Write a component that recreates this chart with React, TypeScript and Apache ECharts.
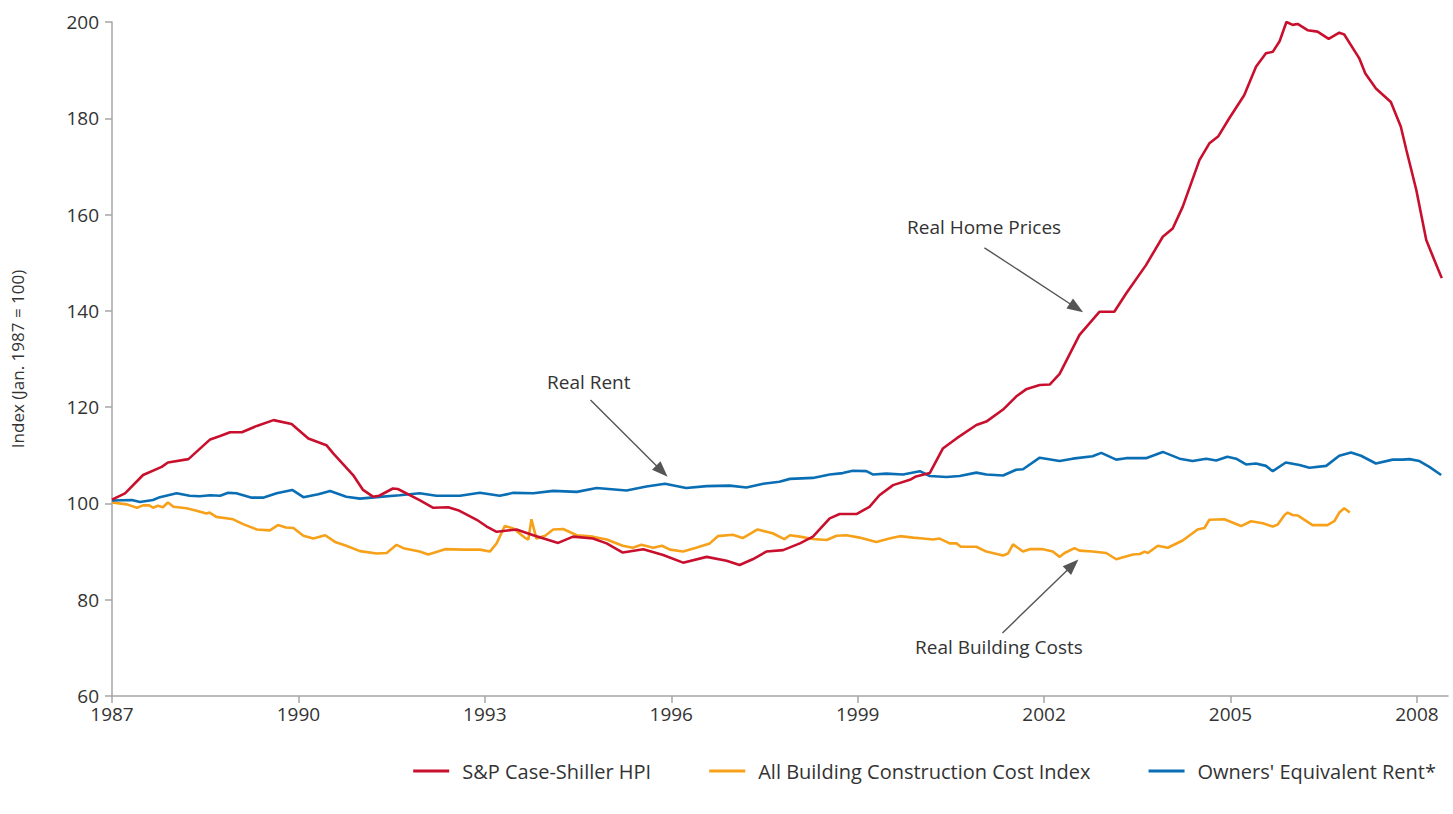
import React, { useEffect, useRef } from "react";
import * as echarts from "echarts";

const BASE_YEAR = 1987;
const xTickLabels = ["1987", "1990", "1993", "1996", "1999", "2002", "2005", "2008"];

const seriesNames = ["S&P Case-Shiller HPI", "All Building Construction Cost Index", "Owners' Equivalent Rent*"];

const hpi: number[][] = [
  [1987.0, 100.8], [1987.21, 102.1], [1987.5, 105.9], [1987.8, 107.6], [1987.9, 108.5], [1988.23, 109.2],
  [1988.58, 113.3], [1988.74, 114.0], [1988.9, 114.8], [1989.09, 114.8], [1989.33, 116.1], [1989.6, 117.3],
  [1989.89, 116.5], [1990.16, 113.5], [1990.45, 112.1], [1990.56, 110.4], [1990.88, 105.9], [1991.04, 102.8],
  [1991.2, 101.4], [1991.3, 101.6], [1991.52, 103.1], [1991.6, 103.0], [1991.95, 100.7], [1992.17, 99.1],
  [1992.41, 99.2], [1992.57, 98.6], [1992.87, 96.6], [1993.03, 95.2], [1993.19, 94.1], [1993.51, 94.6],
  [1993.78, 93.4], [1994.18, 91.8], [1994.42, 93.1], [1994.74, 92.7], [1994.96, 91.7], [1995.22, 89.8],
  [1995.55, 90.5], [1995.87, 89.3], [1996.19, 87.7], [1996.57, 88.9], [1996.89, 88.1], [1997.1, 87.2],
  [1997.31, 88.4], [1997.53, 90.0], [1997.8, 90.3], [1998.07, 91.7], [1998.28, 93.1], [1998.55, 96.9],
  [1998.71, 97.8], [1998.98, 97.8], [1999.19, 99.3], [1999.35, 101.7], [1999.57, 103.8], [1999.84, 104.9],
  [1999.94, 105.6], [2000.16, 106.3], [2000.37, 111.4], [2000.59, 113.5], [2000.91, 116.3], [2001.07, 117.0],
  [2001.34, 119.5], [2001.55, 122.2], [2001.71, 123.7], [2001.93, 124.6], [2002.09, 124.7], [2002.25, 126.9],
  [2002.57, 135.0], [2002.89, 139.8], [2003.13, 139.8], [2003.32, 143.6], [2003.64, 149.5], [2003.91, 155.4],
  [2004.07, 157.1], [2004.23, 161.6], [2004.5, 171.3], [2004.66, 174.8], [2004.8, 176.2], [2004.98, 180.0],
  [2005.22, 184.8], [2005.41, 190.7], [2005.57, 193.5], [2005.68, 193.8], [2005.79, 196.0], [2005.9, 200.0],
  [2006.0, 199.4], [2006.08, 199.6], [2006.24, 198.3], [2006.4, 198.0], [2006.58, 196.5], [2006.75, 197.8],
  [2006.83, 197.4], [2007.07, 192.5], [2007.17, 189.3], [2007.34, 186.2], [2007.58, 183.4], [2007.74, 178.3],
  [2007.83, 173.4], [2007.99, 165.1], [2008.15, 154.7], [2008.26, 151.2], [2008.4, 146.8],
];

const buildingCost: number[][] = [
  [1987.0, 100.2], [1987.24, 99.8], [1987.4, 99.1], [1987.5, 99.6], [1987.6, 99.6], [1987.66, 99.1],
  [1987.74, 99.5], [1987.82, 99.2], [1987.9, 100.2], [1987.99, 99.3], [1988.2, 99.0], [1988.36, 98.5],
  [1988.52, 97.9], [1988.57, 98.1], [1988.68, 97.2], [1988.95, 96.7], [1989.11, 95.7], [1989.33, 94.6],
  [1989.54, 94.4], [1989.67, 95.5], [1989.8, 95.0], [1989.92, 94.9], [1990.08, 93.3], [1990.24, 92.7],
  [1990.43, 93.4], [1990.59, 92.0], [1990.77, 91.2], [1990.99, 90.1], [1991.26, 89.6], [1991.42, 89.7],
  [1991.58, 91.4], [1991.69, 90.7], [1991.95, 90.0], [1992.09, 89.4], [1992.36, 90.5], [1992.66, 90.4],
  [1992.92, 90.4], [1993.08, 90.0], [1993.19, 91.7], [1993.32, 95.3], [1993.46, 94.8], [1993.64, 92.9],
  [1993.7, 92.5], [1993.75, 96.7], [1993.83, 92.7], [1993.97, 93.3], [1994.1, 94.6], [1994.26, 94.7],
  [1994.48, 93.4], [1994.74, 93.1], [1994.96, 92.5], [1995.22, 91.2], [1995.38, 90.8], [1995.52, 91.4],
  [1995.71, 90.8], [1995.85, 91.2], [1995.98, 90.4], [1996.19, 90.0], [1996.4, 90.8], [1996.62, 91.7],
  [1996.75, 93.2], [1996.99, 93.5], [1997.15, 92.8], [1997.26, 93.6], [1997.39, 94.6], [1997.63, 93.8],
  [1997.82, 92.6], [1997.91, 93.4], [1998.07, 93.1], [1998.28, 92.6], [1998.5, 92.4], [1998.66, 93.3],
  [1998.82, 93.4], [1999.03, 92.9], [1999.3, 92.0], [1999.51, 92.7], [1999.68, 93.2], [1999.89, 92.9],
  [2000.05, 92.7], [2000.21, 92.5], [2000.32, 92.7], [2000.48, 91.7], [2000.59, 91.7], [2000.66, 91.0],
  [2000.91, 91.0], [2001.07, 90.0], [2001.34, 89.2], [2001.42, 89.6], [2001.5, 91.5], [2001.66, 90.0],
  [2001.77, 90.5], [2001.98, 90.5], [2002.14, 90.0], [2002.25, 88.9], [2002.33, 89.7], [2002.49, 90.7],
  [2002.57, 90.2], [2002.78, 90.0], [2003.0, 89.7], [2003.16, 88.4], [2003.43, 89.4], [2003.54, 89.5],
  [2003.62, 90.0], [2003.67, 89.7], [2003.83, 91.2], [2003.99, 90.8], [2004.23, 92.3], [2004.47, 94.6],
  [2004.58, 94.9], [2004.66, 96.6], [2004.9, 96.7], [2005.17, 95.3], [2005.33, 96.3], [2005.52, 95.9],
  [2005.68, 95.2], [2005.76, 95.6], [2005.87, 97.6], [2005.92, 98.1], [2006.0, 97.6], [2006.08, 97.5],
  [2006.32, 95.5], [2006.56, 95.5], [2006.67, 96.3], [2006.75, 98.1], [2006.83, 99.0], [2006.92, 98.1],
];

const oer: number[][] = [
  [1987.0, 100.6], [1987.32, 100.7], [1987.45, 100.3], [1987.66, 100.7], [1987.77, 101.3], [1988.04, 102.1],
  [1988.25, 101.6], [1988.41, 101.5], [1988.58, 101.7], [1988.74, 101.6], [1988.87, 102.2], [1989.0, 102.1],
  [1989.25, 101.2], [1989.43, 101.2], [1989.65, 102.1], [1989.9, 102.8], [1990.08, 101.3], [1990.32, 101.9],
  [1990.51, 102.6], [1990.77, 101.4], [1990.99, 101.0], [1991.26, 101.3], [1991.63, 101.7], [1991.95, 102.1],
  [1992.22, 101.6], [1992.6, 101.6], [1992.92, 102.2], [1993.24, 101.6], [1993.46, 102.2], [1993.78, 102.1],
  [1994.1, 102.6], [1994.48, 102.4], [1994.8, 103.2], [1995.28, 102.7], [1995.6, 103.5], [1995.9, 104.1],
  [1996.24, 103.2], [1996.57, 103.6], [1996.94, 103.7], [1997.21, 103.3], [1997.48, 104.1], [1997.74, 104.5],
  [1997.91, 105.1], [1998.28, 105.3], [1998.55, 106.0], [1998.76, 106.3], [1998.92, 106.8], [1999.14, 106.7],
  [1999.25, 106.0], [1999.46, 106.2], [1999.73, 106.0], [2000.0, 106.7], [2000.16, 105.7], [2000.43, 105.5],
  [2000.64, 105.7], [2000.91, 106.4], [2001.07, 106.0], [2001.34, 105.8], [2001.55, 107.0], [2001.66, 107.1],
  [2001.93, 109.5], [2002.25, 108.8], [2002.46, 109.3], [2002.78, 109.8], [2002.92, 110.5], [2003.16, 109.1],
  [2003.32, 109.4], [2003.64, 109.4], [2003.91, 110.7], [2004.18, 109.3], [2004.39, 108.8], [2004.61, 109.3],
  [2004.77, 108.9], [2004.95, 109.7], [2005.09, 109.3], [2005.25, 108.1], [2005.41, 108.3], [2005.57, 107.8],
  [2005.68, 106.7], [2005.89, 108.5], [2006.11, 108.0], [2006.27, 107.4], [2006.54, 107.8], [2006.75, 109.9],
  [2006.94, 110.6], [2007.1, 109.9], [2007.34, 108.3], [2007.61, 109.1], [2007.77, 109.1], [2007.88, 109.2],
  [2008.04, 108.8], [2008.2, 107.6], [2008.39, 105.9],
];

// annotation arrows: [fromYear, fromValue, toYear, toValue]
const arrowHome = [2001.04, 153.1, 2002.52, 140.6];
const arrowRent = [1994.7, 121.5, 1995.85, 106.7];
const arrowBuild = [2001.33, 73.1, 2002.46, 87.2];

const annotationTexts = ["Real Home Prices", "Real Rent", "Real Building Costs"];

const FONT = "'Open Sans', 'Noto Sans', sans-serif";
const TEXT_COLOR = "#333333";
const COLORS = ["#c8102e", "#f7a11a", "#0a6eb4"];

const shift = (d: number[][]) => d.map(([x, y]) => [x - BASE_YEAR, y]);
const arrowData = (a: number[]) => [
  { coord: [a[0] - BASE_YEAR, a[1]], symbol: "none" },
  { coord: [a[2] - BASE_YEAR, a[3]], symbol: "triangle" },
];

export default function App() {
  const ref = useRef<HTMLDivElement>(null);
  useEffect(() => {
    if (!ref.current) return;
    const chart = echarts.init(ref.current, null, { renderer: "svg" });
    chart.setOption({
      animation: false,
      backgroundColor: "#ffffff",
      grid: { left: 112, right: 5, top: 22, bottom: 118, containLabel: false },
      xAxis: {
        type: "value",
        min: 0,
        max: 2008.5 - BASE_YEAR,
        interval: 3,
        axisLine: { show: true, onZero: false, lineStyle: { color: "#a6a6a6", width: 1.5 } },
        axisTick: { show: true, length: 7, lineStyle: { color: "#a6a6a6", width: 1.5 } },
        splitLine: { show: false },
        axisLabel: {
          showMaxLabel: false,
          color: TEXT_COLOR,
          fontFamily: FONT,
          fontSize: 19,
          margin: 8,
          formatter: (v: number) => {
            const idx = Math.round(v / 3);
            return xTickLabels[idx] ?? String(BASE_YEAR + v);
          },
        },
      },
      yAxis: {
        type: "value",
        min: 60,
        max: 200,
        interval: 20,
        name: "Index (Jan. 1987 = 100)",
        nameLocation: "middle",
        nameGap: 86,
        nameRotate: 90,
        nameTextStyle: { color: TEXT_COLOR, fontFamily: FONT, fontSize: 17 },
        axisLine: { show: true, lineStyle: { color: "#a6a6a6", width: 1.5 } },
        axisTick: { show: true, length: 7, lineStyle: { color: "#a6a6a6", width: 1.5 } },
        splitLine: { show: false },
        axisLabel: { color: TEXT_COLOR, fontFamily: FONT, fontSize: 19, margin: 13 },
      },
      legend: {
        right: 12,
        bottom: 28,
        itemWidth: 36,
        itemHeight: 3,
        itemGap: 58,
        icon: "rect",
        textStyle: { color: TEXT_COLOR, fontFamily: FONT, fontSize: 20, padding: [0, 0, 0, 8] },
        data: seriesNames,
      },
      series: [
        {
          name: seriesNames[0],
          type: "line",
          data: shift(hpi),
          showSymbol: false,
          symbol: "none",
          lineStyle: { color: COLORS[0], width: 2.6 },
          itemStyle: { color: COLORS[0] },
          z: 3,
          markLine: {
            silent: true,
            symbolSize: [12, 16],
            label: { show: false },
            lineStyle: { color: "#555555", width: 1.4, type: "solid" },
            data: [arrowData(arrowHome), arrowData(arrowRent), arrowData(arrowBuild)],
          },
        },
        {
          name: seriesNames[1],
          type: "line",
          data: shift(buildingCost),
          showSymbol: false,
          symbol: "none",
          lineStyle: { color: COLORS[1], width: 2.6 },
          itemStyle: { color: COLORS[1] },
          z: 2,
        },
        {
          name: seriesNames[2],
          type: "line",
          data: shift(oer),
          showSymbol: false,
          symbol: "none",
          lineStyle: { color: COLORS[2], width: 2.6 },
          itemStyle: { color: COLORS[2] },
          z: 2,
        },
      ],
      graphic: [
        { type: "text", left: 907, top: 217, style: { text: annotationTexts[0], fill: TEXT_COLOR, font: `19px ${FONT}` } },
        { type: "text", left: 547, top: 372, style: { text: annotationTexts[1], fill: TEXT_COLOR, font: `19px ${FONT}` } },
        { type: "text", left: 915, top: 637, style: { text: annotationTexts[2], fill: TEXT_COLOR, font: `19px ${FONT}` } },
      ],
    });
    return () => chart.dispose();
  }, []);
  return (
    <div
      ref={ref}
      style={{ position: "absolute", left: 0, top: 0, width: 1453, height: 814, background: "#fff" }}
    />
  );
}
